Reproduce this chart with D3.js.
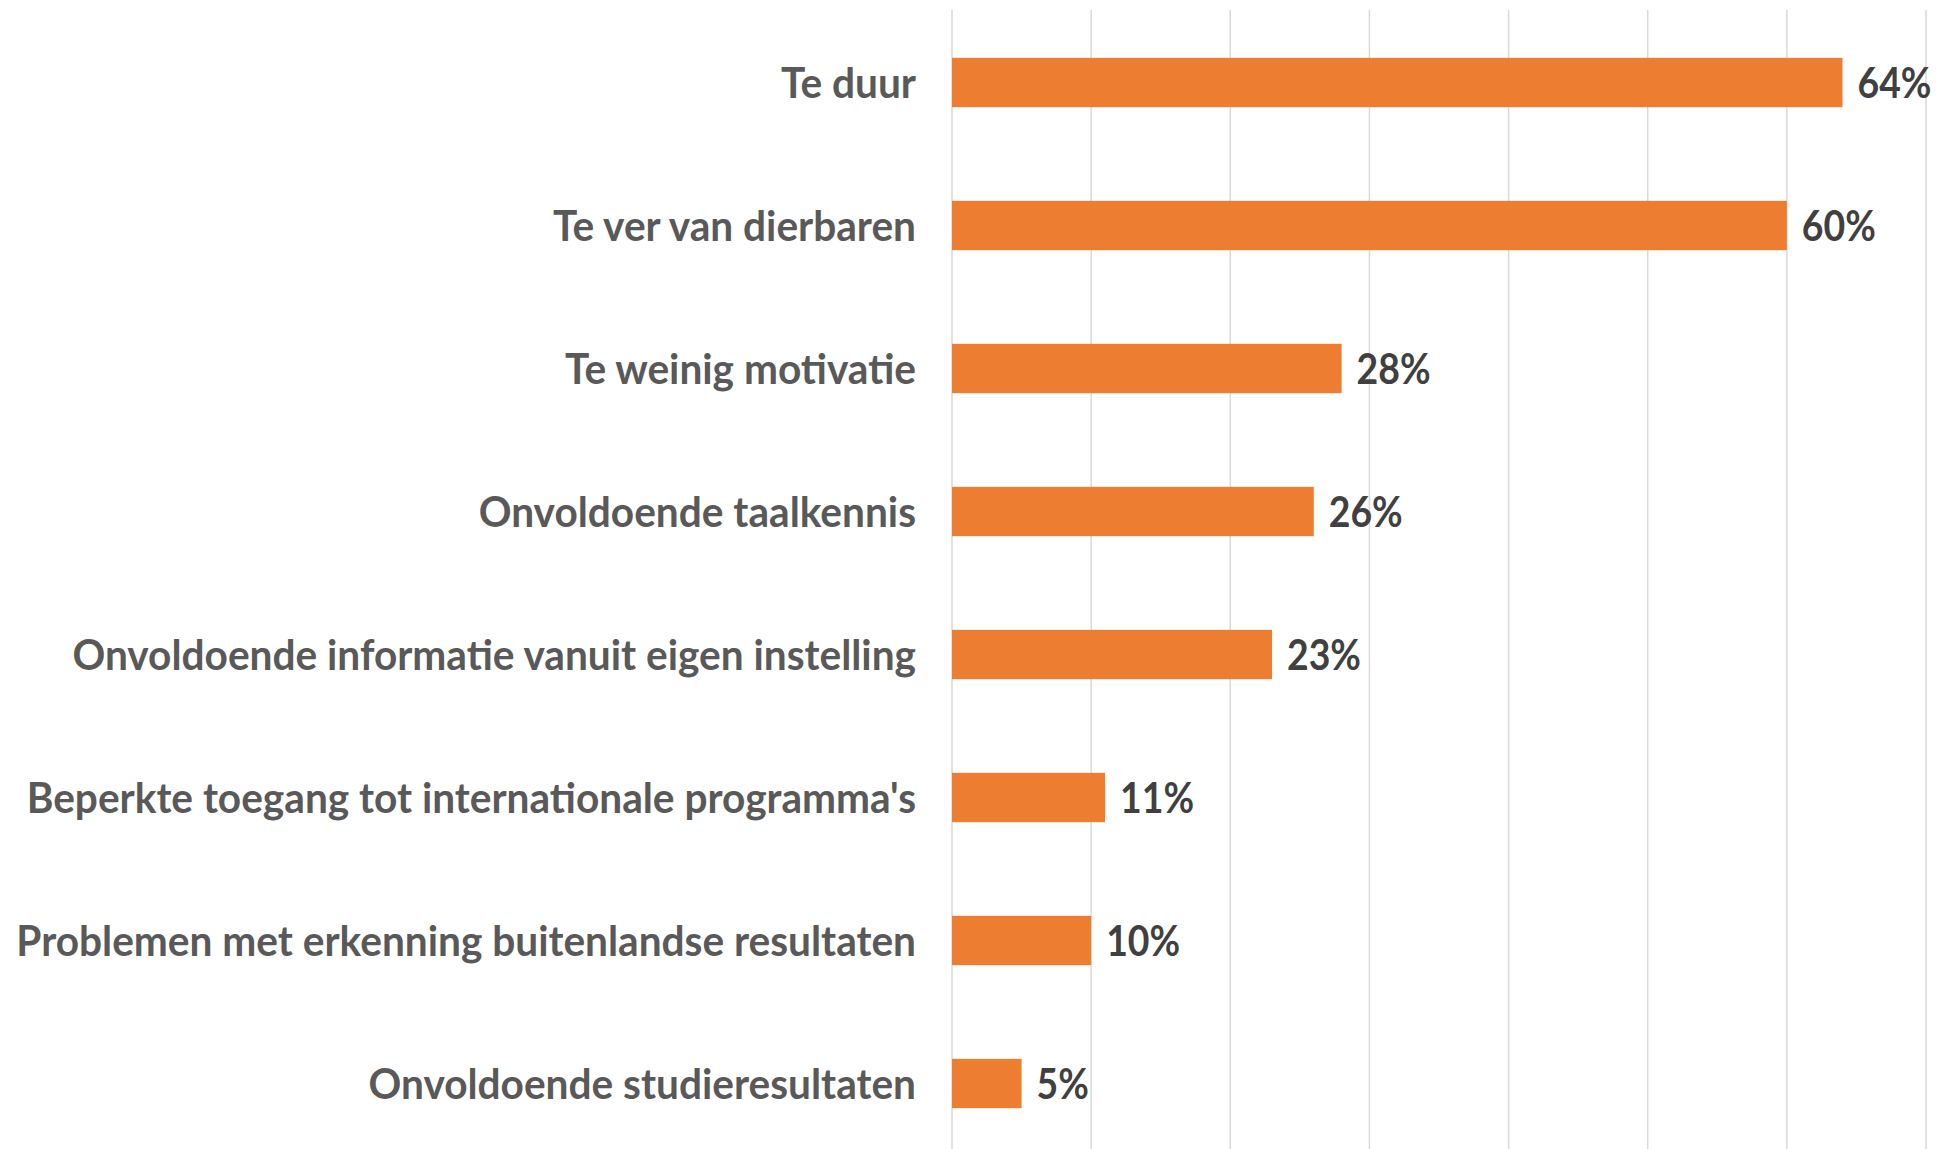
<!DOCTYPE html>
<html>
<head>
<meta charset="utf-8">
<script src="https://d3js.org/d3.v7.min.js"></script>
<style>
  html, body { margin: 0; padding: 0; background: #fff; }
  svg { display: block; }
  .cat { font-family: Lato, "Open Sans", sans-serif; font-weight: bold; fill: #595959; }
  .val { font-family: Lato, "Open Sans", sans-serif; font-weight: bold; fill: #404040; }
</style>
</head>
<body>
<div id="chart"></div>
<script>
// data
var categories = [
  "Te duur",
  "Te ver van dierbaren",
  "Te weinig motivatie",
  "Onvoldoende taalkennis",
  "Onvoldoende informatie vanuit eigen instelling",
  "Beperkte toegang tot internationale programma's",
  "Problemen met erkenning buitenlandse resultaten",
  "Onvoldoende studieresultaten"
];
var values = [64, 60, 28, 26, 23, 11, 10, 5];
var gridTicks = [0, 10, 20, 30, 40, 50, 60, 70];

var W = 1936, H = 1149;
var plotLeft = 952, plotRight = 1926, plotTop = 11, plotBottom = 1155;
var labelRight = 916;

var svg = d3.select("#chart").append("svg")
  .attr("width", W).attr("height", H);

var x = d3.scaleLinear().domain([0, 70]).range([plotLeft, plotRight]);
var y = d3.scaleBand().domain(categories).range([plotTop, plotBottom]).paddingInner(0.655).paddingOuter(0.3275);

// vertical grid
svg.append("g")
  .attr("class", "grid")
  .selectAll("line")
  .data(gridTicks).enter()
  .append("line")
  .attr("x1", function(d){ return x(d); })
  .attr("x2", function(d){ return x(d); })
  .attr("y1", 10)
  .attr("y2", H)
  .attr("stroke", "#d9d9d9")
  .attr("stroke-width", 1.5);

// bars
svg.append("g").selectAll("rect")
  .data(values).enter()
  .append("rect")
  .attr("x", x(0))
  .attr("y", function(d, i){ return y(categories[i]); })
  .attr("width", function(d){ return x(d) - x(0); })
  .attr("height", y.bandwidth())
  .attr("fill", "#ED7D31");

// category labels
var catG = svg.append("g");
var cats = catG.selectAll("text")
  .data(categories).enter()
  .append("text")
  .attr("class", "cat")
  .attr("text-anchor", "end")
  .style("font-size", "42px")
  .text(function(d){ return d; });

// squeeze horizontally so the longest label fits like the original
var maxW = d3.max(cats.nodes(), function(n){ return n.getComputedTextLength(); });
var sx = 900 / maxW;
cats.attr("transform", function(d){
  return "translate(" + labelRight + "," + (y(d) + y.bandwidth() / 2 + 15) + ") scale(" + sx + ",1)";
});

// value labels (a little narrower than the category labels)
var vsx = sx * 0.92;
svg.append("g").selectAll("text")
  .data(values).enter()
  .append("text")
  .attr("class", "val")
  .style("font-size", "42px")
  .attr("transform", function(d, i){
    return "translate(" + (x(d) + 15) + "," + (y(categories[i]) + y.bandwidth() / 2 + 15) + ") scale(" + vsx + ",1)";
  })
  .text(function(d){ return d + "%"; });
</script>
</body>
</html>
